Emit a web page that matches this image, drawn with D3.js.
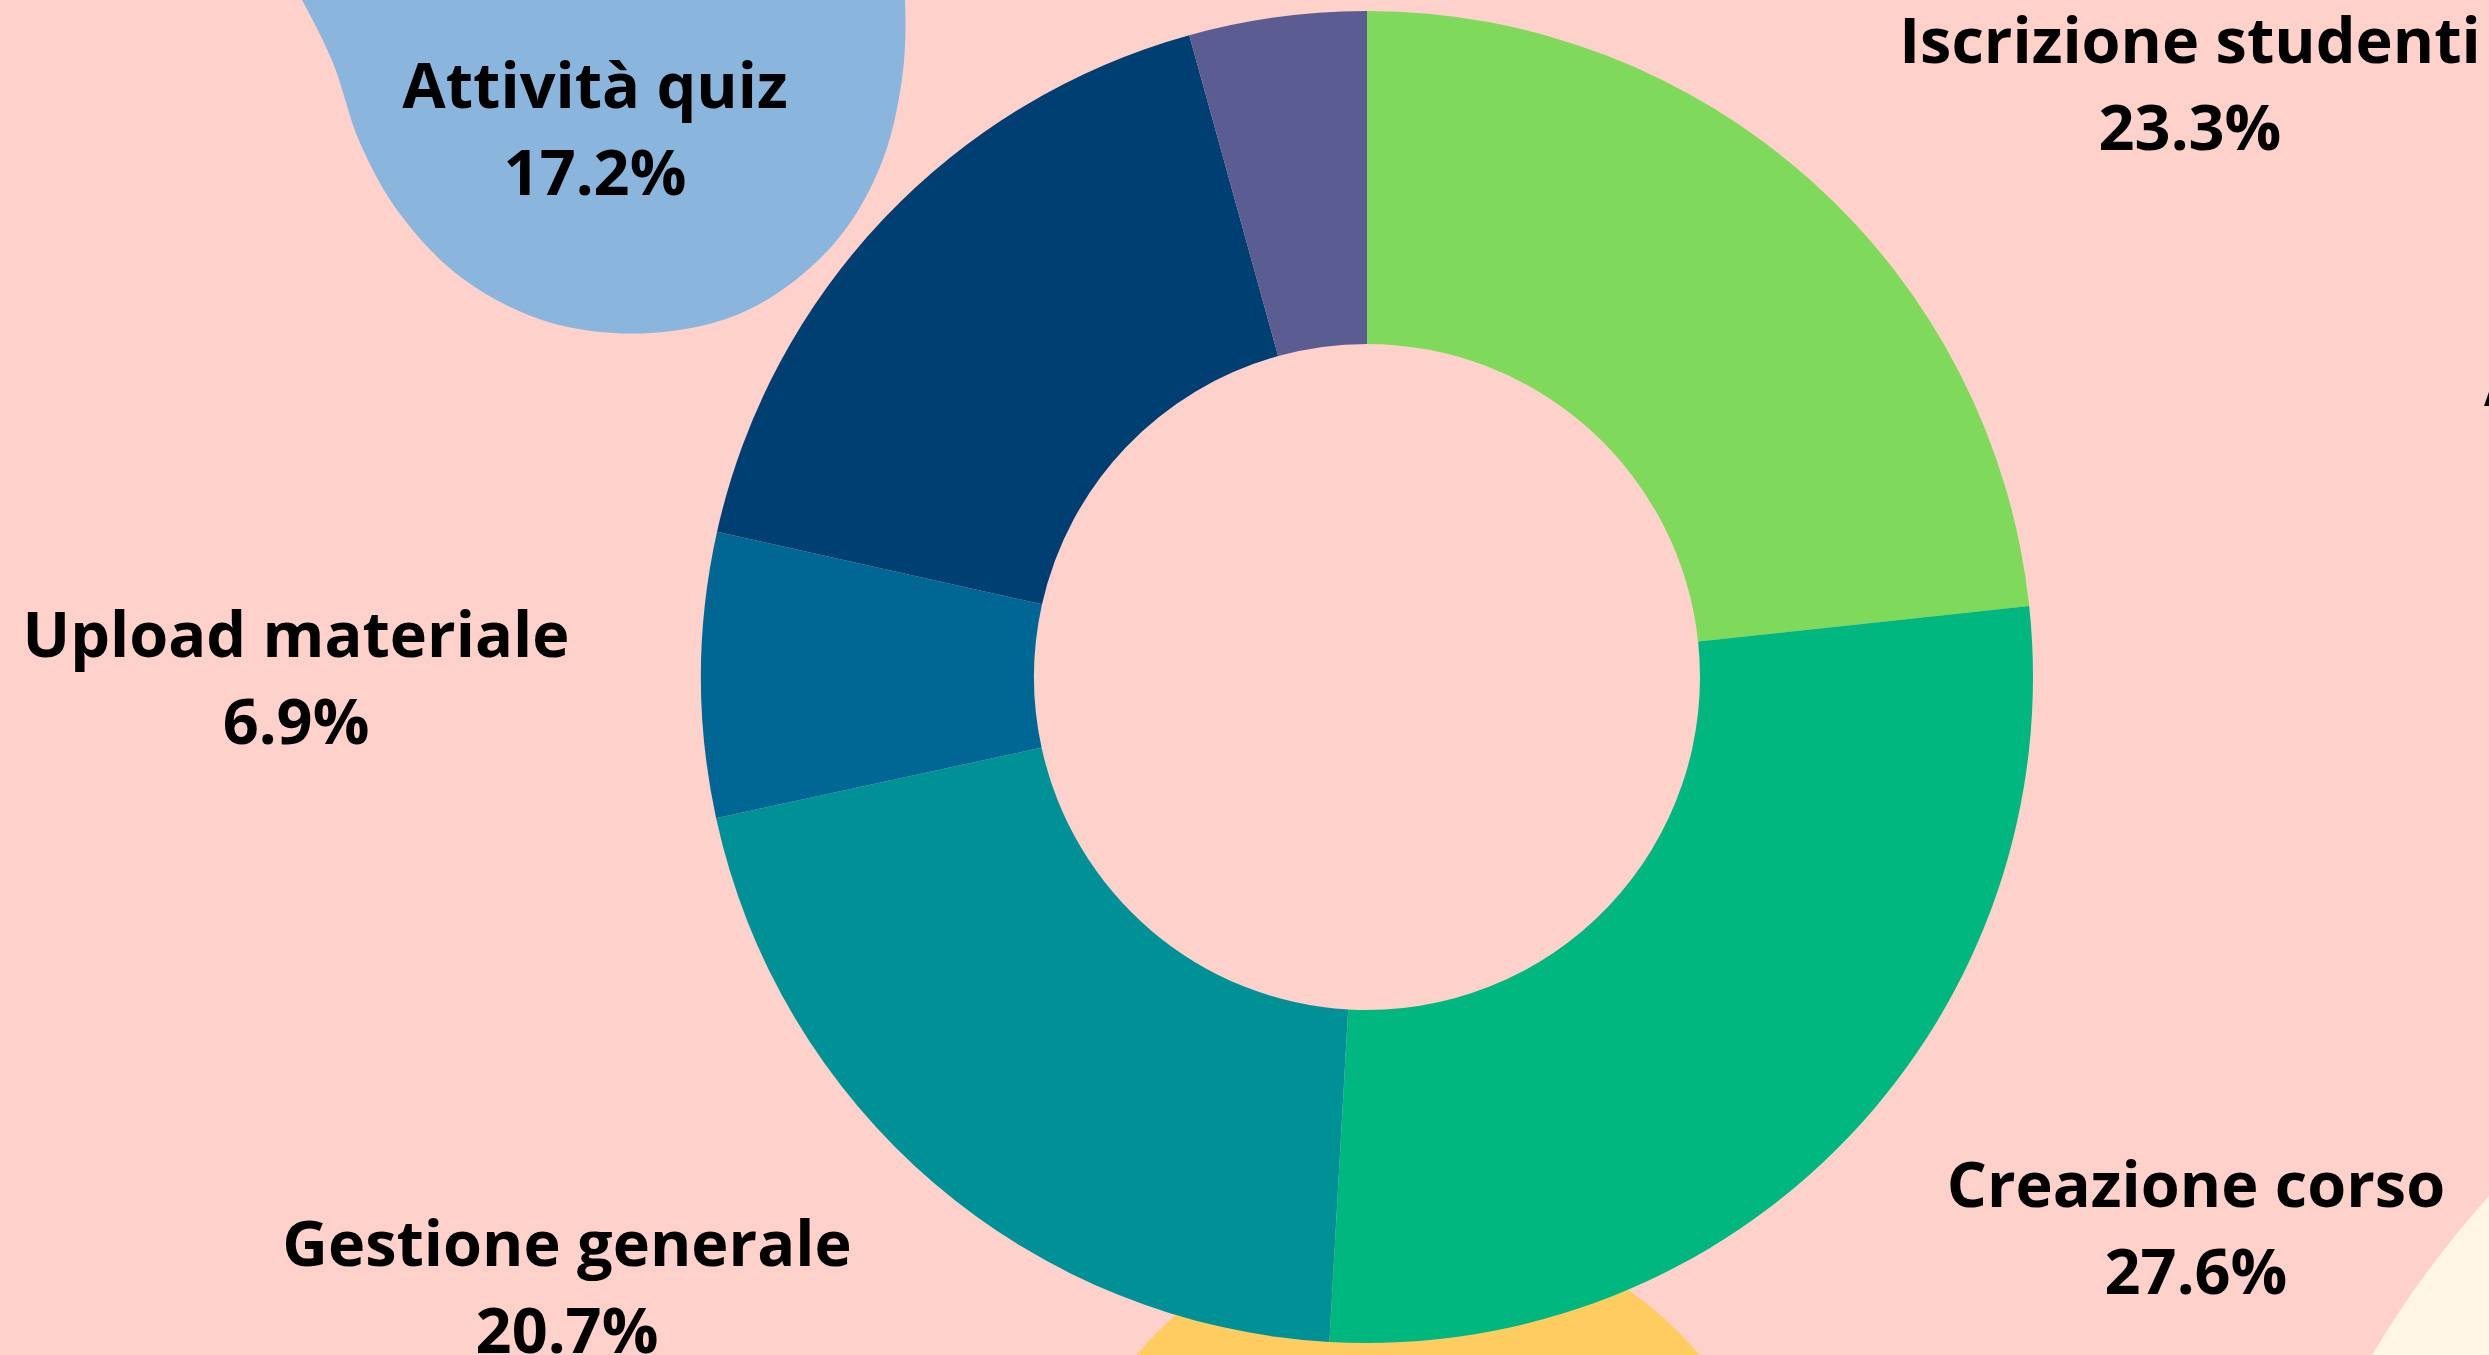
<!DOCTYPE html>
<html><head><meta charset="utf-8">
<script src="https://cdn.jsdelivr.net/npm/d3@7"></script>
<style>html,body{margin:0;padding:0;overflow:hidden;background:#FFD1CB}</style>
</head><body><svg id="c" width="2489" height="1355"></svg>
<script>
// ---- data ----
const categories = ["Iscrizione studenti", "Creazione corso", "Gestione generale", "Upload materiale", "Attività quiz", "Altro"];
const values = [23.3, 27.6, 20.7, 6.9, 17.2, 4.3];
const percentLabels = ["23.3%", "27.6%", "20.7%", "6.9%", "17.2%", "4.3%"];

// ---- styles / layout ----
const colors = ["#7FD95B", "#00B87F", "#009196", "#006794", "#003F72", "#5A5C92"];
const W = 2489, H = 1355;
const cx = 1367, cy = 677, outerR = 666, innerR = 333;
// label anchor offsets from donut centre (first-line baseline); "left" = left edge of first line
const labelLayout = [
  {dx: 823, dy: -614, align: "middle"},
  {dx: 829, dy: 530, align: "middle"},
  {dx: -800, dy: 589, align: "middle"},
  {dx: -1071, dy: -20, align: "middle"},
  {dx: -772, dy: -569, align: "middle"},
  {dx: 1117, dy: -271, align: "left"}
];
const lineGap = 87;
const fontSize = 63;

const svg = d3.select("#c");
svg.append("rect").attr("width", W).attr("height", H).attr("fill", "#FFD1CB");

// decorative shapes
svg.append("circle").attr("cx", 1418).attr("cy", 1592).attr("r", 368).attr("fill", "#FFCC5F");
svg.append("circle").attr("cx", 3235).attr("cy", 1868).attr("r", 1004).attr("fill", "#FFF6E6");
const blobPts = [[600,-200],[250,-90],[302,0],[333,63],[360,143],[400,214],[462,278],[548,322],[651,333],[748,310],[832,246],[880,167],[902,79],[905,0],[895,-90]];
svg.append("path")
  .attr("d", d3.line().curve(d3.curveCatmullRomClosed.alpha(0.5))(blobPts))
  .attr("fill", "#8AB6DE");

// donut
const pie = d3.pie().sort(null).value(d => d).startAngle(0).endAngle(2 * Math.PI);
const arc = d3.arc().innerRadius(innerR).outerRadius(outerR);
const g = svg.append("g").attr("transform", `translate(${cx},${cy})`);
g.selectAll("path").data(pie(values)).join("path")
  .attr("d", arc)
  .attr("fill", (d, i) => colors[i]);

// labels
const lg = svg.append("g").attr("transform", `translate(${cx},${cy})`)
  .attr("font-family", "'Open Sans', sans-serif").attr("font-weight", 700)
  .attr("font-size", fontSize).attr("fill", "#000").attr("text-anchor", "middle");
categories.forEach((c, i) => {
  const L = labelLayout[i];
  const t = lg.append("text").attr("x", L.dx).attr("y", L.dy);
  const t1 = t.append("tspan").attr("x", L.dx).attr("y", L.dy).text(c);
  const t2 = t.append("tspan").attr("x", L.dx).attr("y", L.dy + lineGap).text(percentLabels[i]);
  if (L.align === "left") {
    const w = t1.node().getComputedTextLength();
    t1.attr("x", L.dx + w / 2);
    t2.attr("x", L.dx + w / 2);
  }
});
</script></body></html>
